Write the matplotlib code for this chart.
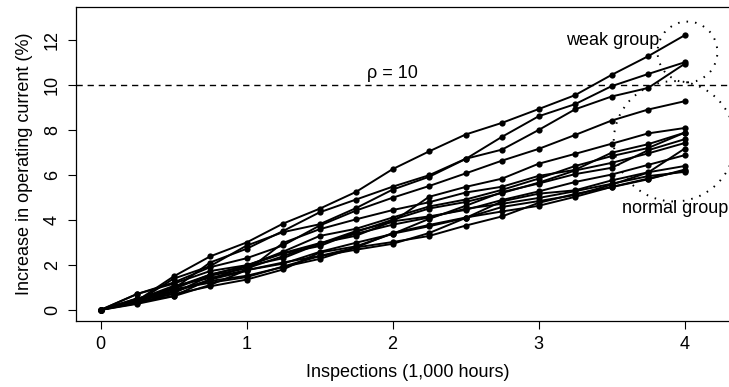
import matplotlib
matplotlib.use("Agg")
import matplotlib.pyplot as plt
from matplotlib.patches import Ellipse
import numpy as np

plt.rcParams["font.family"] = ["Liberation Sans", "DejaVu Sans"]

# inspection times (1,000 hours)
hours = [0, 0.25, 0.5, 0.75, 1.0, 1.25, 1.5, 1.75, 2.0,
         2.25, 2.5, 2.75, 3.0, 3.25, 3.5, 3.75, 4.0]

# percent increase in operating current, one list per laser unit
unit01 = [0, 0.47, 0.93, 2.11, 2.72, 3.51, 4.34, 4.91, 5.48, 5.99, 6.72, 7.13, 8.00, 8.92, 9.49, 9.87, 10.94]
unit02 = [0, 0.71, 1.22, 1.90, 2.30, 2.87, 3.75, 4.42, 4.99, 5.51, 6.07, 6.64, 7.16, 7.78, 8.42, 8.91, 9.28]
unit03 = [0, 0.71, 1.17, 1.73, 1.99, 2.53, 2.97, 3.30, 3.94, 4.16, 4.45, 4.89, 5.27, 5.69, 6.02, 6.45, 6.88]
unit04 = [0, 0.36, 0.62, 1.36, 1.95, 2.30, 2.95, 3.39, 3.79, 4.11, 4.50, 4.72, 4.98, 5.28, 5.61, 5.95, 6.14]
unit05 = [0, 0.27, 0.61, 1.11, 1.77, 2.06, 2.58, 2.99, 3.38, 4.05, 4.63, 5.24, 5.62, 6.04, 6.32, 7.10, 7.59]
unit06 = [0, 0.36, 1.39, 1.95, 2.86, 3.46, 3.81, 4.53, 5.35, 5.92, 6.71, 7.70, 8.61, 9.15, 9.95, 10.49, 11.01]
unit07 = [0, 0.36, 0.92, 1.21, 1.46, 1.93, 2.39, 2.68, 2.94, 3.42, 4.09, 4.58, 4.84, 5.11, 5.57, 6.11, 7.17]
unit08 = [0, 0.46, 1.07, 1.42, 1.77, 2.11, 2.40, 2.78, 3.02, 3.29, 3.75, 4.16, 4.76, 5.16, 5.46, 5.81, 6.24]
unit09 = [0, 0.51, 0.93, 1.57, 1.96, 2.59, 3.29, 3.61, 4.11, 4.60, 4.91, 5.34, 5.84, 6.40, 6.84, 7.20, 7.88]
unit10 = [0, 0.41, 1.49, 2.38, 3.00, 3.84, 4.50, 5.25, 6.26, 7.05, 7.80, 8.32, 8.93, 9.55, 10.45, 11.28, 12.21]
unit11 = [0, 0.44, 1.00, 1.57, 1.96, 2.51, 2.84, 3.47, 4.01, 4.51, 4.80, 5.20, 5.66, 6.20, 6.54, 6.96, 7.42]
unit12 = [0, 0.39, 0.80, 1.35, 1.74, 2.98, 3.59, 4.03, 4.44, 4.79, 5.22, 5.48, 5.96, 6.23, 6.99, 7.37, 7.88]
unit13 = [0, 0.30, 0.74, 1.52, 1.85, 2.39, 2.95, 3.51, 3.92, 5.03, 5.47, 5.84, 6.50, 6.94, 7.39, 7.85, 8.09]
unit14 = [0, 0.44, 0.70, 1.05, 1.35, 1.80, 2.55, 2.83, 3.39, 3.72, 4.09, 4.83, 5.17, 5.32, 5.76, 6.12, 6.40]
unit15 = [0, 0.51, 0.83, 1.29, 1.52, 1.91, 2.27, 2.78, 3.42, 3.78, 4.11, 4.38, 4.63, 5.03, 5.47, 5.84, 6.20]

units = [unit01, unit02, unit03, unit04, unit05, unit06, unit07, unit08,
         unit09, unit10, unit11, unit12, unit13, unit14, unit15]

threshold = 10
fs = 13

fig = plt.figure(figsize=(7.29, 3.87), dpi=100)
W, H = 729.0, 387.0
# plot region runs a little past the right edge of the figure
ax = fig.add_axes([76 / W, (H - 321) / H, (739 - 76) / W, (321 - 7) / H])

for u in units:
    ax.plot(hours, u, color="black", lw=1.4, marker="o", ms=4.5,
            markeredgewidth=0, clip_on=False)

ax.axhline(threshold, color="black", lw=1.0, dashes=(4.5, 3.5))
ax.text(2.0, threshold + 0.12, "\u03c1 = 10", ha="center", va="bottom", fontsize=fs)

# dotted rings around the two groups of units
ax.add_patch(Ellipse((4.02, 11.47), 0.41, 2.7, fill=False, color="black",
                     lw=1.4, linestyle=(0, (0.8, 3.6)), clip_on=False))
ax.add_patch(Ellipse((3.93, 7.5), 0.83, 5.35, fill=False, color="black",
                     lw=1.4, linestyle=(0, (0.8, 3.6)), clip_on=False))
ax.text(3.83, 12.0, "weak group", ha="right", va="center", fontsize=fs)
ax.text(3.57, 4.5, "normal group", ha="left", va="center", fontsize=fs)

ax.set_xlim(-0.168, 4.373)
ax.set_ylim(-0.49, 13.47)
ax.set_xticks([0, 1, 2, 3, 4])
ax.set_yticks([0, 2, 4, 6, 8, 10, 12])
ax.set_yticklabels(["0", "2", "4", "6", "8", "10", "12"], rotation=90, va="center")
ax.tick_params(direction="out", length=5.8, width=0.8, labelsize=fs, pad=5)
for side in ["left", "bottom", "top"]:
    ax.spines[side].set_linewidth(0.9)
ax.spines["right"].set_visible(False)

ax.set_xlabel("Inspections (1,000 hours)", fontsize=fs, labelpad=8)
ax.set_ylabel("Increase in operating current (%)", fontsize=fs, labelpad=8)

fig.savefig("out.png", dpi=100)
